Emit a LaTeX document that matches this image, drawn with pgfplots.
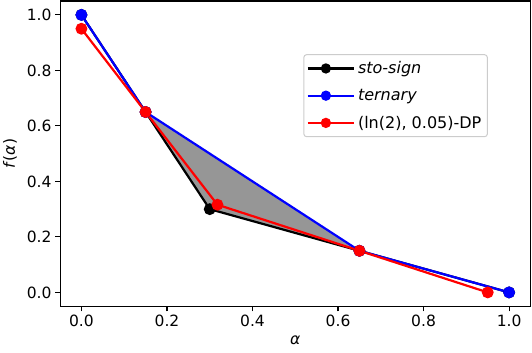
\documentclass[border=0pt]{standalone}
\usepackage{fontspec}
\setmainfont{DejaVu Sans}
\usepackage{pgfplots}
\pgfplotsset{compat=1.18}

\definecolor{fillgray}{RGB}{150,150,150}
\definecolor{legframe}{RGB}{204,204,204}

\begin{document}
\begin{tikzpicture}
\begin{axis}[
  scale only axis,
  width=470pt, height=305pt,
  xmin=-0.05, xmax=1.05, ymin=-0.05, ymax=1.05,
  xtick={0,0.2,0.4,0.6,0.8,1.0},
  ytick={0,0.2,0.4,0.6,0.8,1.0},
  /pgf/number format/assume math mode=true,
  /pgf/number format/.cd, fixed, fixed zerofill, precision=1, /pgfplots/.cd,
  tick label style={font=\fontsize{15.5}{18}\selectfont},
  label style={font=\fontsize{15.5}{18}\selectfont},
  tick align=outside, tick pos=left,
  major tick length=5pt,
  axis line style={line width=1.1pt},
  every tick/.style={line width=1.1pt, black},
  xlabel={\textit{α}},
  ylabel={\textit{f}(\textit{α})},
  xlabel style={at={(axis description cs:0.5,-0.1115)}, anchor=center},
  ylabel style={at={(axis description cs:-0.1064,0.5)}, anchor=center},
  legend cell align=left,
  legend style={at={(axis description cs:0.517,0.826)}, anchor=north west,
    draw=legframe, line width=1pt, rounded corners=3pt,
    font=\fontsize{16}{18}\selectfont,
    nodes={inner sep=3pt},
    row sep=8pt, inner xsep=3pt, inner ysep=4pt},
  legend image code/.code={\draw[mark repeat=2, mark phase=2, mark size=4pt] plot coordinates {(0pt,0pt) (18pt,0pt) (36pt,0pt)};
    \path (0pt,0pt) -- (46pt,0pt);},
]
\addplot[fill=fillgray, draw=none, forget plot] coordinates {(0.15,0.65) (0.3,0.3) (0.65,0.15)} -- cycle;
\addplot[black, line width=2.2pt, mark=*, mark size=4.8pt] coordinates {(0,1) (0.15,0.65) (0.3,0.3) (0.65,0.15) (1,0)};
\addlegendentry{\textit{sto-sign}}
\addplot[blue, line width=2.2pt, mark=*, mark size=4.8pt] coordinates {(0,1) (0.15,0.65) (0.65,0.15) (1,0)};
\addlegendentry{\textit{ternary}}
\addplot[red, line width=2.2pt, mark=*, mark size=4.8pt] coordinates {(0,0.95) (0.15,0.65) (0.318,0.316) (0.65,0.15) (0.95,0)};
\addlegendentry{(ln(2), 0.05)-DP}
\end{axis}
\pgfresetboundingbox
\path (current axis.south west) ++(-60pt,-46pt) rectangle ([xshift=1.5pt,yshift=1pt]current axis.north east);
\end{tikzpicture}
\end{document}
